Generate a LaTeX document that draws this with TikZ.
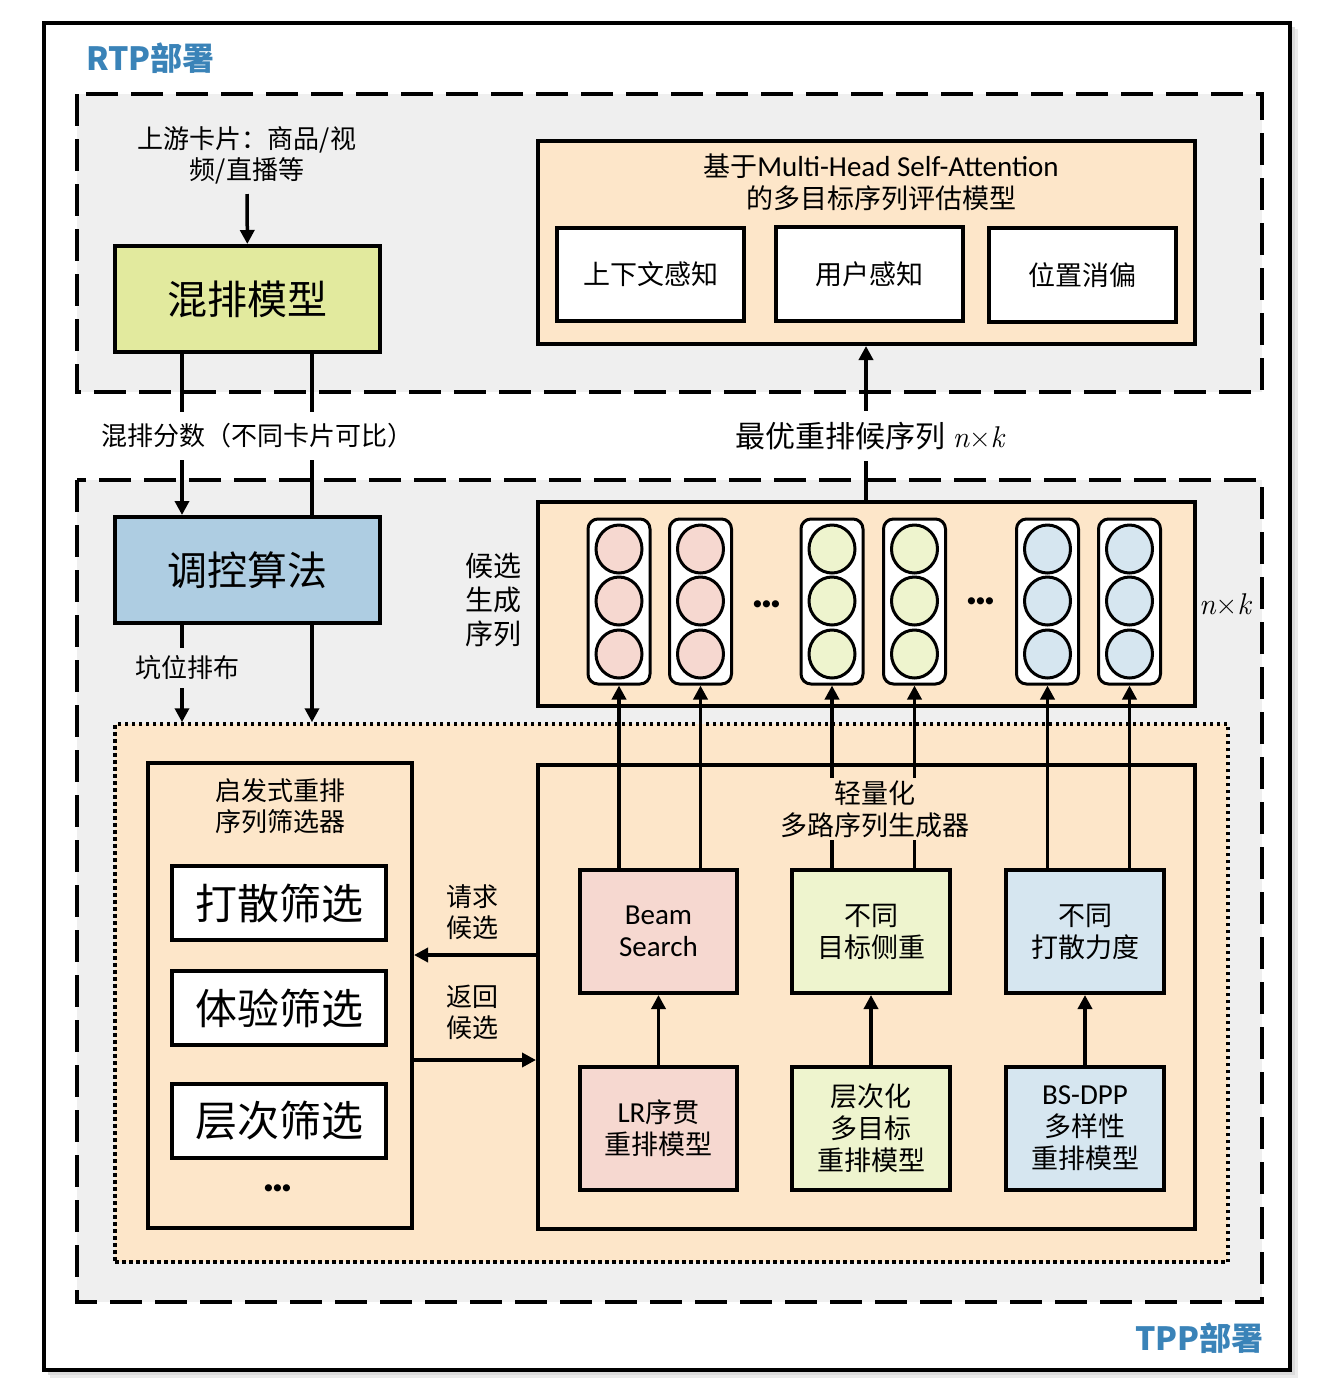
\documentclass[tikz,border=0pt]{standalone}
\usepackage{fontspec}
\setmainfont{Noto Sans CJK SC}
\newfontfamily\lat{Carlito}
\newfontfamily\lmr{Latin Modern Roman}
\usetikzlibrary{arrows.meta,calc,shapes.geometric}
\definecolor{grayreg}{HTML}{EFEFEF}
\definecolor{peach}{HTML}{FDE6C9}
\definecolor{mixc}{HTML}{E2EA9E}
\definecolor{ctrlc}{HTML}{AECDE2}
\definecolor{pinkc}{HTML}{F6D8D0}
\definecolor{greenc}{HTML}{EEF4CE}
\definecolor{bluec}{HTML}{D6E6F0}
\definecolor{titleblue}{HTML}{3A83B8}
\newcommand\nk{{\lmr\itshape n}{\lmr ×}{\lmr\itshape k}}
\newcommand\tridots{.\kern-3.5pt.\kern-3.5pt.}
\tikzset{
  box/.style={draw=black, line width=4pt, inner sep=0pt, align=center},
  arr/.style={line width=3.5pt, -{Triangle[length=14pt,width=14pt]}},
  ln/.style={line width=3.5pt},
  dashbox/.style={line width=4pt, dash pattern=on 32pt off 13pt, fill=grayreg},
  dotbox/.style={draw=black, line width=3.5pt, dash pattern=on 3.5pt off 3.5pt, fill=peach, inner sep=0pt},
  lab/.style={inner sep=3pt, align=center},
  colbox/.style={draw=black, line width=3pt, fill=white, rounded corners=10pt, minimum width=62pt, minimum height=165pt, inner sep=0pt},
  circ/.style={draw=black, line width=3pt, ellipse, minimum width=46pt, minimum height=48pt, inner sep=0pt},
  dotsfont/.style={inner sep=0pt, font=\lat\bfseries\fontsize{48}{48}\selectfont},
  f26/.style={font=\fontsize{26}{31}\selectfont},
  f27/.style={font=\fontsize{27}{32}\selectfont},
  f28/.style={font=\fontsize{28}{34}\selectfont},
  f40/.style={font=\fontsize{40}{48}\selectfont},
  f42/.style={font=\fontsize{42}{50}\selectfont},
  bluetitle/.style={font=\fontsize{32}{38}\selectfont\bfseries, text=titleblue, inner sep=0pt},
}
\begin{document}
\begin{tikzpicture}[x=1pt,y=-1pt]
\useasboundingbox (0,0) rectangle (1338,1382);
% frame with soft shadow
\fill[black!8] (50,29) rectangle (1298,1378);
\fill[black!14] (48,27) rectangle (1295,1375);
\draw[line width=4pt, fill=white] (44,23) rectangle (1290,1370);
% regions
\draw[dashbox] (77,94) rectangle (1262,392);
\draw[dashbox] (77,480) rectangle (1262,1302);
\node[dotbox, minimum width=1113pt, minimum height=538pt] (rerank) at (671.5,993) {};

% coordinates for vertical connector x / y positions
\coordinate (xA) at (182,0);
\coordinate (xB) at (312,0);
\coordinate (xM) at (866,0);
\coordinate (yReq) at (0,955);
\coordinate (yRet) at (0,1060);

% titles
\node[bluetitle, anchor=west] (rtp) at (86,58) {RTP部署};
\node[bluetitle, anchor=east] (tpp) at (1264,1338) {TPP部署};

% upper left
\node[lab, f26, inner sep=6pt] (src) at (247,155) {上游卡片：商品/视\\频/直播等};
\node[box, fill=mixc, f40, minimum width=265pt, minimum height=106pt] (mix) at (247.5,299) {混排模型};
\node[box, fill=ctrlc, f40, minimum width=265pt, minimum height=106pt] (ctrl) at (247.5,570) {调控算法};

% evaluation model
\node[box, fill=peach, minimum width=657pt, minimum height=203pt] (eval) at (866.5,242.5) {};
\node[lab, f27] (evalT) at (881,182) {基于{\lat\fontsize{29}{32}\selectfont Multi-Head Self-Attention}\\的多目标序列评估模型};
\node[box, fill=white, f27, minimum width=187pt, minimum height=93pt] (ctx) at (650.5,274.5) {上下文感知};
\node[box, fill=white, f27, minimum width=187pt, minimum height=94pt] (usr) at (869.5,274) {用户感知};
\node[box, fill=white, f27, minimum width=187pt, minimum height=94pt] (pos) at (1082.5,275) {位置消偏};

% candidates
\node[box, fill=peach, minimum width=657pt, minimum height=204pt] (cand) at (866.5,604) {};
\node[lab, f28] (candL) at (493,600) {候选\\生成\\序列};
\foreach \n/\x/\c in {c1/619/pinkc, c2/700.5/pinkc, c3/832/greenc, c4/914.5/greenc, c5/1047.5/bluec, c6/1129.5/bluec}{
  \node[colbox] (\n) at (\x,601.5) {};
  \node[circ, fill=\c] (\n a) at (\x,549) {};
  \node[circ, fill=\c] (\n b) at (\x,601) {};
  \node[circ, fill=\c] (\n c) at (\x,654) {};
}
\node[dotsfont] (dots1) at (767,604) {\tridots};
\node[dotsfont] (dots2) at (981,601) {\tridots};
\node[inner sep=0pt, font=\fontsize{30}{32}\selectfont] (nk) at (1225,604) {\nk};

% filter box
\node[box, fill=peach, minimum width=264pt, minimum height=465pt] (filt) at (280,995.5) {};
\node[lab, f26, fill=peach] (filtT) at (280,806) {启发式重排\\序列筛选器};
\node[box, fill=white, f42, minimum width=214pt, minimum height=74pt] (f1) at (279,903) {打散筛选};
\node[box, fill=white, f42, minimum width=214pt, minimum height=74pt] (f2) at (279,1008) {体验筛选};
\node[box, fill=white, f42, minimum width=214pt, minimum height=74pt] (f3) at (279,1121) {层次筛选};
\node[dotsfont] (dots3) at (278,1188) {\tridots};

% generator
\node[box, fill=peach, minimum width=657pt, minimum height=464pt] (gen) at (866.5,997) {};
\node[box, fill=pinkc, minimum width=157pt, minimum height=123pt, font=\lat\fontsize{29}{32}\selectfont] (bs) at (658.5,931.5) {Beam\\Search};
\node[box, fill=greenc, f27, minimum width=158pt, minimum height=123pt] (tg) at (871,931.5) {不同\\目标侧重};
\node[box, fill=bluec, f27, minimum width=158pt, minimum height=123pt] (sd) at (1085,931.5) {不同\\打散力度};
\node[box, fill=pinkc, f27, minimum width=157pt, minimum height=123pt] (lr) at (658.5,1128.5) {{\lat\fontsize{29}{32}\selectfont LR}序贯\\重排模型};
\node[box, fill=greenc, f27, minimum width=158pt, minimum height=123pt] (hi) at (871,1128.5) {层次化\\多目标\\重排模型};
\node[box, fill=bluec, f27, minimum width=158pt, minimum height=123pt] (dpp) at (1085,1128.5) {{\lat\fontsize{29}{32}\selectfont BS-DPP}\\多样性\\重排模型};

% connectors
\draw[arr, shorten <=4pt] (src) -- (mix);
\draw[arr] (mix.south -| xA) -- (ctrl.north -| xA);
\draw[ln] (mix.south -| xB) -- (ctrl.north -| xB);
\draw[arr] (ctrl.south -| xA) -- (rerank.north -| xA);
\draw[arr] (ctrl.south -| xB) -- (rerank.north -| xB);
\draw[arr] (cand.north -| xM) -- (eval.south -| xM);
\draw[arr] (lr) -- (bs);
\draw[arr] (hi) -- (tg);
\draw[arr] (dpp) -- (sd);
\draw[arr] (bs.north -| c1) -- (c1.south);
\draw[arr] (bs.north -| c2) -- (c2.south);
\draw[arr] (tg.north -| c3) -- (c3.south);
\draw[arr] (tg.north -| c4) -- (c4.south);
\draw[arr] (sd.north -| c5) -- (c5.south);
\draw[arr] (sd.north -| c6) -- (c6.south);
\draw[arr] (gen.west |- yReq) -- (filt.east |- yReq);
\draw[arr] (filt.east |- yRet) -- (gen.west |- yRet);

% labels interrupting lines
\node[lab, f26, fill=white, inner sep=12pt] (score) at (257.5,436) {混排分数（不同卡片可比）};
\node[lab, fill=white, inner sep=11pt, font=\fontsize{30}{34}\selectfont] (best) at (870,436) {最优重排候序列 \nk};
\node[lab, f26, fill=grayreg, inner sep=8pt] (slot) at (187,668) {坑位排布};
\node[lab, f27, fill=peach, inner sep=2pt] (genT) at (875,809) {轻量化\\多路序列生成器};
\node[lab, f26] (req) at (472,912) {请求\\候选};
\node[lab, f26] (ret) at (472,1012) {返回\\候选};
\end{tikzpicture}
\end{document}
